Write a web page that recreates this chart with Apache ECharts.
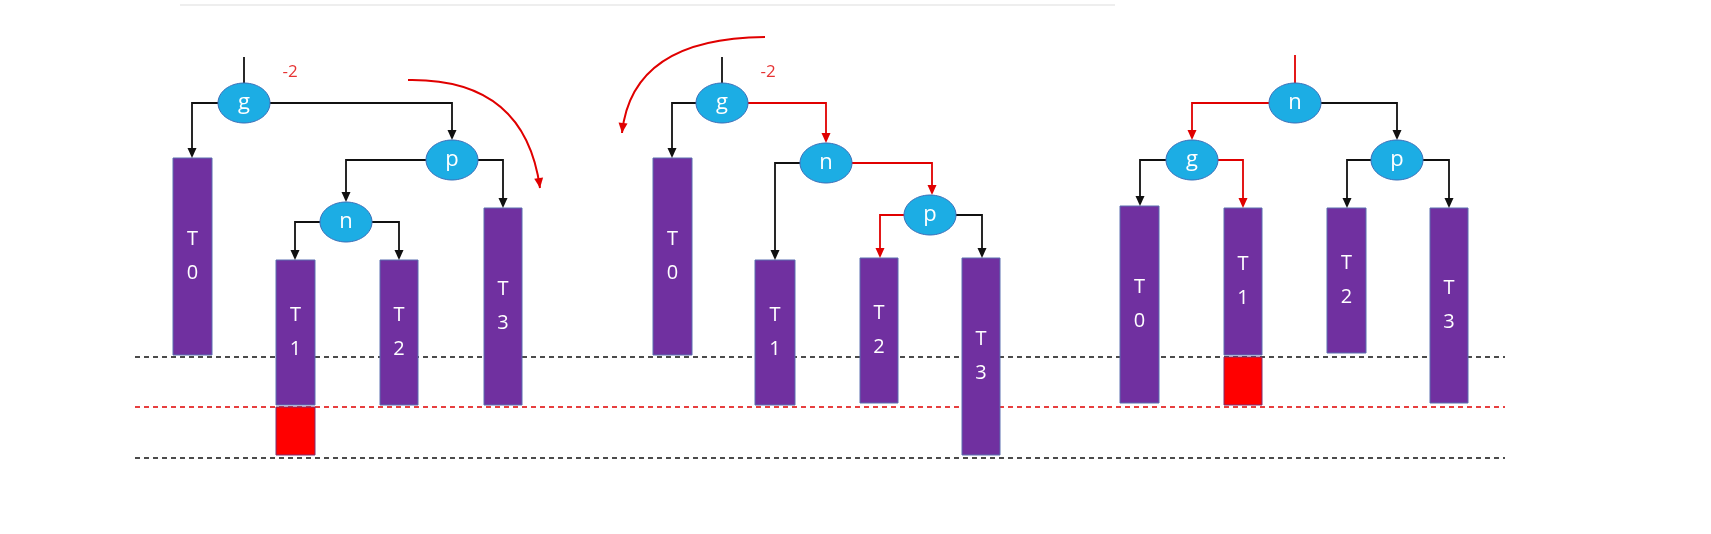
<!DOCTYPE html>
<html>
<head>
<meta charset="utf-8">
<script src="https://cdn.jsdelivr.net/npm/echarts@6/dist/echarts.min.js"></script>
<style>html,body{margin:0;padding:0;background:#fff}#main{width:1711px;height:534px}</style>
</head>
<body>
<div id="main"></div>
<script>
// 子树矩形: [x0, x1, 顶, 底, 名称]
var bars = [
    [173, 212, 158, 355, 'T0'], [276, 315, 260, 405, 'T1'], [380, 418, 260, 405, 'T2'], [484, 522, 208, 405, 'T3'],
    [653, 692, 158, 355, 'T0'], [755, 795, 260, 405, 'T1'], [860, 898, 258, 403, 'T2'], [962, 1000, 258, 455, 'T3'],
    [1120, 1159, 206, 403, 'T0'], [1224, 1262, 208, 355, 'T1'], [1327, 1366, 208, 353, 'T2'], [1430, 1468, 208, 403, 'T3']
]
// 高度增加的红色块
var redBlocks = [[276, 315, 407, 455], [1224, 1262, 357, 405]]
// 节点: [cx, cy, 名称]
var nodes = [
    [244, 103, 'g'], [452, 160, 'p'], [346, 222, 'n'],
    [722, 103, 'g'], [826, 163, 'n'], [930, 215, 'p'],
    [1295, 103, 'n'], [1192, 160, 'g'], [1397, 160, 'p']
]
// 连线: [折线点, 颜色]
var edges = [
    [[[218, 103], [192, 103], [192, 158]], 'k'], [[[270, 103], [452, 103], [452, 140]], 'k'],
    [[[426, 160], [346, 160], [346, 202]], 'k'], [[[478, 160], [503, 160], [503, 208]], 'k'],
    [[[320, 222], [295, 222], [295, 260]], 'k'], [[[372, 222], [399, 222], [399, 260]], 'k'],
    [[[696, 103], [672, 103], [672, 158]], 'k'], [[[748, 103], [826, 103], [826, 143]], 'r'],
    [[[800, 163], [775, 163], [775, 260]], 'k'], [[[852, 163], [932, 163], [932, 195]], 'r'],
    [[[904, 215], [880, 215], [880, 258]], 'r'], [[[956, 215], [982, 215], [982, 258]], 'k'],
    [[[1269, 103], [1192, 103], [1192, 140]], 'r'], [[[1321, 103], [1397, 103], [1397, 140]], 'k'],
    [[[1166, 160], [1140, 160], [1140, 206]], 'k'], [[[1218, 160], [1243, 160], [1243, 208]], 'r'],
    [[[1371, 160], [1347, 160], [1347, 208]], 'k'], [[[1423, 160], [1449, 160], [1449, 208]], 'k']
]
// 父节点上方的短线
var stubs = [[[244, 57], [244, 83], 'k'], [[722, 57], [722, 83], 'k'], [[1295, 55], [1295, 83], 'r']]
// 旋转方向的弧形箭头: [起点, 控制点, 终点]
var curves = [[[408, 80], [525, 78], [540, 188]], [[765, 37], [632, 38], [622, 133]]]
// 水平虚线: [y, 颜色]
var levels = [[357, 'k'], [407, 'r'], [458, 'k']]
// 平衡因子
var factors = [[290, 72, '-2'], [768, 72, '-2']]

var C = { k: '#111', r: '#e00000' }
var PURPLE = '#7030a0', BLUE = '#1cade4'

var myChart = echarts.init(document.getElementById('main'))

function arrowHead(from, to, color) {
    var dx = to[0] - from[0], dy = to[1] - from[1]
    var len = Math.sqrt(dx * dx + dy * dy) || 1
    var ux = dx / len, uy = dy / len, L = 10, W = 4.5
    var bx = to[0] - ux * L, by = to[1] - uy * L
    return {
        type: 'polygon',
        shape: { points: [to, [bx - uy * W, by + ux * W], [bx + uy * W, by - ux * W]] },
        style: { fill: color }
    }
}

var option = {
    animation: false,
    grid: { left: 0, right: 0, top: 0, bottom: 0 },
    xAxis: { type: 'value', min: 0, max: 1711, show: false },
    yAxis: { type: 'value', min: 0, max: 534, inverse: true, show: false },
    series: [
        {
            type: 'lines', coordinateSystem: 'cartesian2d', z: 1,
            data: [{ coords: [[180, 5], [1115, 5]] }],
            lineStyle: { color: '#eee', width: 2, opacity: 1 }
        },
        {
            type: 'lines', coordinateSystem: 'cartesian2d', z: 2,
            data: levels.map(function(l) {
                return { coords: [[135, l[0]], [1505, l[0]]], lineStyle: { color: C[l[1]] } }
            }),
            lineStyle: { type: [5, 4], width: 1.5, opacity: 1 }
        },
        {
            type: 'custom', z: 3,
            renderItem: function(params, api) {
                var b = bars[params.dataIndex]
                var p0 = api.coord([b[0], b[2]]), p1 = api.coord([b[1], b[3]])
                var h = p1[1] - p0[1], cx = (p0[0] + p1[0]) / 2
                var my = p0[1] + Math.min(h / 2, 100)
                return {
                    type: 'group', children: [
                        { type: 'rect', shape: { x: p0[0], y: p0[1], width: p1[0] - p0[0], height: h }, style: { fill: PURPLE, stroke: '#5a6fb0', lineWidth: 1 } },
                        { type: 'text', style: { text: b[4][0], x: cx, y: my - 17, fill: '#fff', font: '20px "Open Sans", sans-serif', align: 'center', verticalAlign: 'middle' } },
                        { type: 'text', style: { text: b[4][1], x: cx, y: my + 17, fill: '#fff', font: '20px "Open Sans", sans-serif', align: 'center', verticalAlign: 'middle' } }
                    ]
                }
            },
            data: bars.map(function(b, i) { return [i] })
        },
        {
            type: 'custom', z: 3,
            renderItem: function(params, api) {
                var b = redBlocks[params.dataIndex]
                var p0 = api.coord([b[0], b[2]]), p1 = api.coord([b[1], b[3]])
                return { type: 'rect', shape: { x: p0[0], y: p0[1], width: p1[0] - p0[0], height: p1[1] - p0[1] }, style: { fill: '#ff0000', stroke: '#7a3070', lineWidth: 1 } }
            },
            data: redBlocks.map(function(b, i) { return [i] })
        },
        {
            // 带箭头的折线
            type: 'custom', z: 4,
            renderItem: function(params, api) {
                var e = edges[params.dataIndex]
                var pts = e[0].map(function(p) { return api.coord(p) })
                var col = C[e[1]]
                var n = pts.length
                var last = pts[n - 1], prev = pts[n - 2]
                var trimmed = pts.slice(0, n - 1).concat([[last[0], last[1] - 8]])
                return {
                    type: 'group', children: [
                        { type: 'polyline', shape: { points: trimmed }, style: { stroke: col, lineWidth: 1.8, fill: null } },
                        arrowHead(prev, last, col)
                    ]
                }
            },
            data: edges.map(function(e, i) { return [i] })
        },
        {
            type: 'lines', coordinateSystem: 'cartesian2d', z: 4,
            data: stubs.map(function(s) {
                return { coords: [s[0], s[1]], lineStyle: { color: C[s[2]] } }
            }),
            lineStyle: { width: 1.8, opacity: 1 }
        },
        {
            // 弧形箭头
            type: 'custom', z: 4,
            renderItem: function(params, api) {
                var c = curves[params.dataIndex]
                var a = api.coord(c[0]), m = api.coord(c[1]), b = api.coord(c[2])
                return {
                    type: 'group', children: [
                        { type: 'bezierCurve', shape: { x1: a[0], y1: a[1], cpx1: m[0], cpy1: m[1], x2: b[0], y2: b[1] }, style: { stroke: C.r, lineWidth: 2, fill: null } },
                        arrowHead(m, b, C.r)
                    ]
                }
            },
            data: curves.map(function(c, i) { return [i] })
        },
        {
            type: 'custom', z: 5,
            renderItem: function(params, api) {
                var n = nodes[params.dataIndex]
                var p = api.coord([n[0], n[1]])
                return {
                    type: 'group', children: [
                        { type: 'ellipse', shape: { cx: p[0], cy: p[1], rx: 26, ry: 20 }, style: { fill: BLUE, stroke: '#3d6fb8', lineWidth: 1 } },
                        { type: 'text', style: { text: n[2], x: p[0], y: p[1], fill: '#fff', font: '22px "Open Sans", sans-serif', align: 'center', verticalAlign: 'middle' } }
                    ]
                }
            },
            data: nodes.map(function(n, i) { return [i] })
        },
        {
            type: 'scatter', z: 5, symbolSize: 0,
            data: factors.map(function(f) { return [f[0], f[1], f[2]] }),
            label: { show: true, position: 'inside', formatter: function(p) { return p.data[2] }, color: '#e00000', fontSize: 17, fontFamily: 'Open Sans' }
        }
    ]
}
myChart.setOption(option)
</script>
</body>
</html>
